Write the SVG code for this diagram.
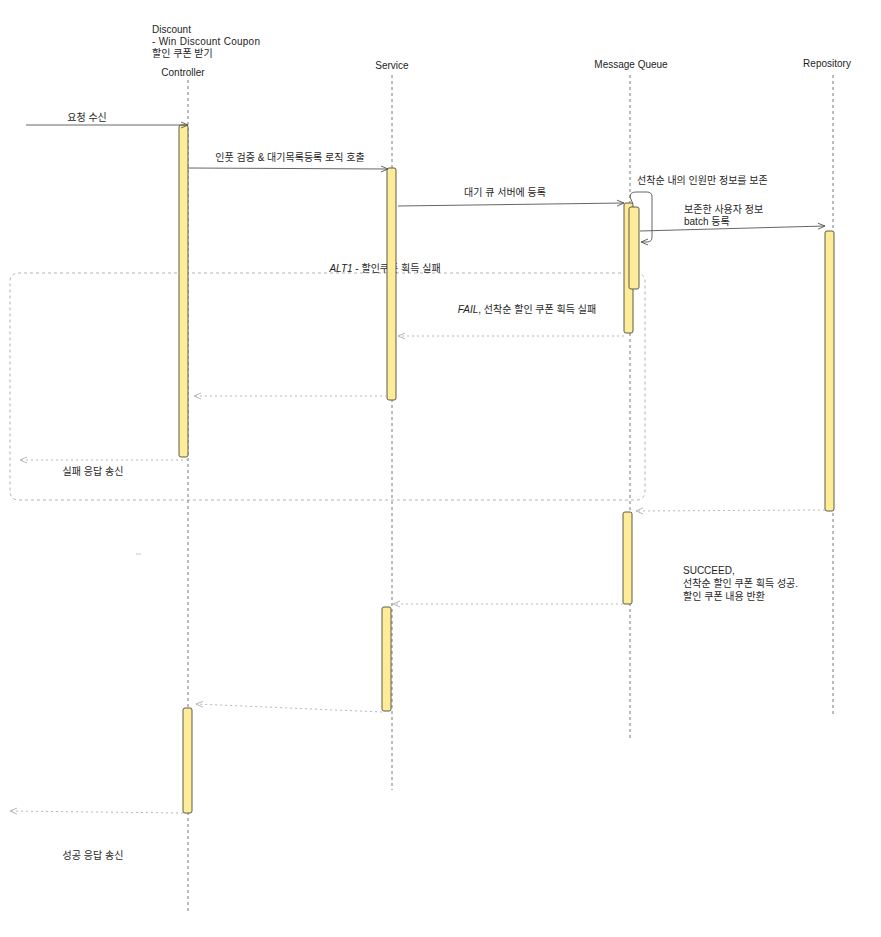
<svg xmlns="http://www.w3.org/2000/svg" width="881" height="937" viewBox="0 0 881 937">
<defs>
<style>
text{font-family:"Liberation Sans","Noto Sans CJK KR",sans-serif;font-size:10px;fill:#1e1e1e}
.it{font-style:italic}
.life{stroke:#555;stroke-width:0.8;stroke-dasharray:3 3;fill:none}
.act{fill:#ffec99;stroke:#5c5c4a;stroke-width:1}
.msg{stroke:#555;stroke-width:0.9;fill:none}
.ret{stroke:#b0b0b0;stroke-width:0.9;stroke-dasharray:2 3;fill:none}
.frame{stroke:#aaa;stroke-width:0.9;stroke-dasharray:3 3;fill:none}
</style>
<marker id="ah" markerWidth="8" markerHeight="8" refX="7" refY="4" orient="auto" markerUnits="userSpaceOnUse">
<path d="M0,1 L7,4 L0,7" fill="none" stroke="#555" stroke-width="0.9"/>
</marker>
<marker id="ahr" markerWidth="8" markerHeight="8" refX="7" refY="4" orient="auto" markerUnits="userSpaceOnUse">
<path d="M0,1 L7,4 L0,7" fill="none" stroke="#b0b0b0" stroke-width="0.9"/>
</marker>
</defs>
<rect width="881" height="937" fill="#fff"/>

<g id="frame-alt1">
<rect class="frame" x="10" y="273" width="635" height="227" rx="8"/>
<text x="385" y="272" text-anchor="middle"><tspan class="it">ALT1</tspan> - 할인쿠폰 획득 실패</text>
</g>

<g id="controller">
<text x="152" y="33">Discount</text>
<text x="152" y="45" textLength="108">- Win Discount Coupon</text>
<text x="152" y="57">할인 쿠폰 받기</text>
<text x="183" y="76" text-anchor="middle">Controller</text>
<line class="life" x1="188" y1="80" x2="188" y2="912"/>
<rect class="act" x="179" y="125" width="9" height="332" rx="2"/>
<rect class="act" x="183" y="708" width="9" height="105" rx="2"/>
</g>

<g id="service">
<text x="392" y="69" text-anchor="middle">Service</text>
<line class="life" x1="392" y1="75" x2="392" y2="790"/>
<rect class="act" x="387" y="168" width="9" height="232" rx="2"/>
<rect class="act" x="382" y="607" width="9" height="104" rx="2"/>
</g>

<g id="message-queue">
<text x="631" y="68" text-anchor="middle">Message Queue</text>
<line class="life" x1="630" y1="75" x2="630" y2="738"/>
<rect class="act" x="624" y="203" width="9" height="130" rx="2"/>
<rect class="act" x="629" y="207" width="10" height="82" rx="2"/>
<rect class="act" x="623" y="512" width="9" height="92" rx="2"/>
</g>

<g id="repository">
<text x="827" y="67" text-anchor="middle">Repository</text>
<line class="life" x1="833" y1="75" x2="833" y2="715"/>
<rect class="act" x="825" y="231" width="9" height="280" rx="2"/>
</g>

<g id="connectors">
<line class="msg" x1="26" y1="125" x2="188" y2="125" marker-end="url(#ah)"/>
<text x="87" y="121" text-anchor="middle">요청 수신</text>

<line class="msg" x1="188" y1="168" x2="388" y2="169" marker-end="url(#ah)"/>
<text x="290" y="161" text-anchor="middle">인풋 검증 &amp; 대기목록등록 로직 호출</text>

<line class="msg" x1="398" y1="206" x2="624" y2="203" marker-end="url(#ah)"/>
<text x="505" y="196" text-anchor="middle">대기 큐 서버에 등록</text>

<path class="msg" d="M633,204 L630,197 Q630,192 636,192 L647,192 Q652,192 652,197 L652,237 Q652,242 647,242 L641,242" marker-end="url(#ah)"/>
<text x="637" y="184">선착순 내의 인원만 정보를 보존</text>

<line class="msg" x1="640" y1="231" x2="825" y2="226" marker-end="url(#ah)"/>
<text x="684" y="213">보존한 사용자 정보</text>
<text x="684" y="225">batch 등록</text>

<line class="ret" x1="624" y1="336" x2="398" y2="336" marker-end="url(#ahr)"/>
<text x="527" y="313" text-anchor="middle"><tspan class="it">FAIL</tspan>, 선착순 할인 쿠폰 획득 실패</text>

<line class="ret" x1="387" y1="396" x2="194" y2="396" marker-end="url(#ahr)"/>

<line class="ret" x1="188" y1="460" x2="20" y2="460" marker-end="url(#ahr)"/>
<text x="93" y="475" text-anchor="middle">실패 응답 송신</text>

<line class="ret" x1="825" y1="510" x2="636" y2="511" marker-end="url(#ahr)"/>

<text x="683" y="574">SUCCEED,</text>
<text x="683" y="587">선착순 할인 쿠폰 획득 성공.</text>
<text x="683" y="600">할인 쿠폰 내용 반환</text>

<line class="ret" x1="623" y1="604" x2="393" y2="604" marker-end="url(#ahr)"/>

<line class="ret" x1="382" y1="712" x2="196" y2="704" marker-end="url(#ahr)"/>

<line class="ret" x1="183" y1="813" x2="10" y2="811" marker-end="url(#ahr)"/>
<text x="93" y="859" text-anchor="middle">성공 응답 송신</text>

<line x1="136" y1="554" x2="141" y2="554" stroke="#bbb" stroke-width="0.8"/>
</g>
</svg>
